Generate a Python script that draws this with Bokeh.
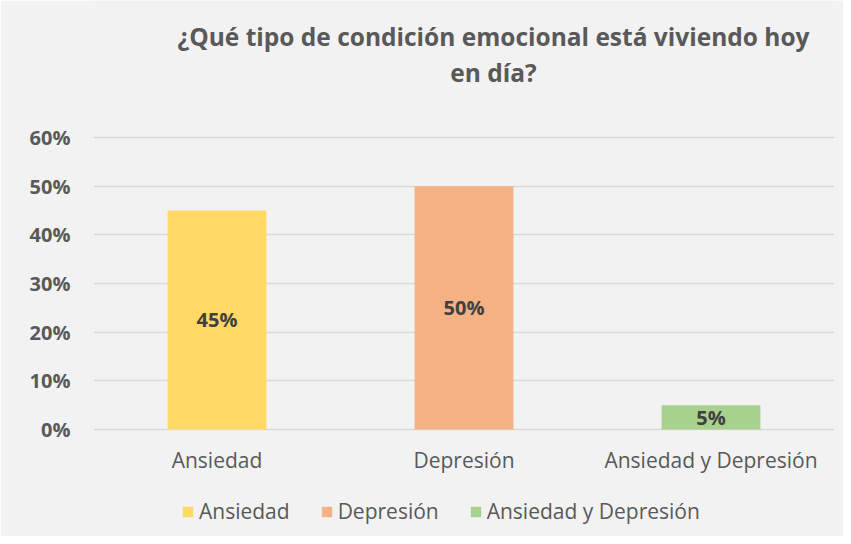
from bokeh.plotting import figure
from bokeh.models import ColumnDataSource, NumeralTickFormatter, Label, LabelSet, Legend, LegendItem
from bokeh.embed import file_html
from bokeh.resources import INLINE
from bokeh.core.properties import value

categories = ["Ansiedad", "Depresión", "Ansiedad y Depresión"]
values = [0.45, 0.50, 0.05]
labels = ["45%", "50%", "5%"]
colors = ["#FFD966", "#F4B183", "#A9D18E"]
y_ticks = [0, 0.1, 0.2, 0.3, 0.4, 0.5, 0.6]
title_lines = ["¿Qué tipo de condición emocional está viviendo hoy", "en día?"]

FONT = "Open Sans"
BG = "#F2F2F2"
TXT = "#595959"

src = ColumnDataSource(dict(cat=categories, val=values, half=[v / 2 for v in values],
                            lab=labels, color=colors))

# The frame covers the whole chart height so that title, category labels and
# legend (annotations) are not clipped; grid lines only at the y ticks.
p = figure(x_range=categories, y_range=(-0.2199, 0.8815), width=843, height=536,
           output_backend="svg", toolbar_location=None,
           background_fill_color=BG, border_fill_color=BG,
           min_border_left=93, min_border_right=9, min_border_top=0, min_border_bottom=0)
p.outline_line_color = None

r = p.vbar(x="cat", top="val", bottom=0, width=0.4, color="color", source=src, line_color=None)

p.add_layout(LabelSet(x="cat", y="half", text="lab", source=src, text_align="center",
                      text_baseline="middle", text_font=value(FONT), text_font_style="bold",
                      text_font_size="20px", text_color="#404040"))

# category labels under the baseline
p.add_layout(LabelSet(x="cat", y=0, y_offset=-31, text="cat", source=src, text_align="center",
                      text_baseline="middle", text_font=value(FONT),
                      text_font_size="21px", text_color=TXT))

p.xaxis.visible = False
p.yaxis.formatter = NumeralTickFormatter(format="0%")
p.yaxis.ticker = y_ticks
p.yaxis.axis_line_color = None
p.yaxis.major_tick_line_color = None
p.yaxis.minor_tick_line_color = None
p.yaxis.major_tick_out = 0
p.yaxis.minor_tick_out = 0
p.yaxis.major_label_text_font = FONT
p.yaxis.major_label_text_font_style = "bold"
p.yaxis.major_label_text_font_size = "20px"
p.yaxis.major_label_text_color = TXT
p.yaxis.major_label_standoff = 23

p.xgrid.grid_line_color = None
p.ygrid.grid_line_color = "#D9D9D9"
p.ygrid.grid_line_width = 1.5

# title lines (screen units, relative to frame bottom-left)
for i, line in enumerate(title_lines):
    p.add_layout(Label(x=400, y=500 - i * 36, x_units="screen", y_units="screen",
                       text=line, text_align="center", text_baseline="middle",
                       text_font=FONT, text_font_style="bold", text_font_size="24.5px",
                       text_color=TXT))

items = [LegendItem(label=categories[i], renderers=[r], index=i) for i in range(3)]
leg = Legend(items=items, orientation="horizontal", location=(88, 11),
             background_fill_alpha=0, border_line_color=None,
             label_text_font=FONT, label_text_font_size="21px", label_text_color=TXT,
             glyph_width=13, glyph_height=13, spacing=30, label_standoff=5,
             margin=0, padding=5)
p.add_layout(leg)

open("out.html", "w").write(file_html(p, INLINE))
